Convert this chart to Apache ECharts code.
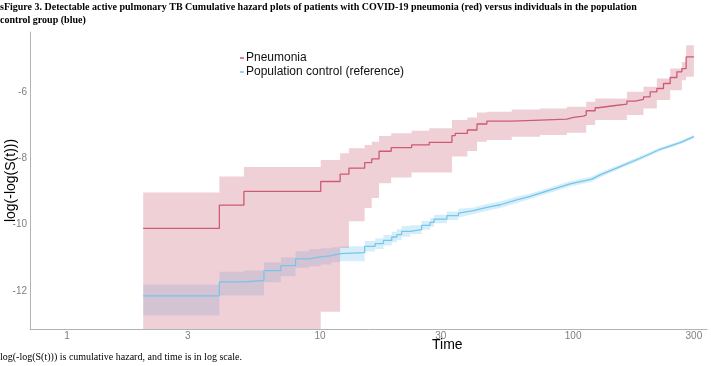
<!DOCTYPE html>
<html>
<head>
<meta charset="utf-8">
<script src="https://cdn.jsdelivr.net/npm/echarts@6/dist/echarts.min.js"></script>
<style>
html, body { margin: 0; padding: 0; background: #fff; }
#chart { width: 711px; height: 366px; }
</style>
</head>
<body>
<div id="chart"></div>
<script>
// pneumonia group: step times, estimate and confidence band
const redT = [2, 4.0, 5.0, 10.06, 12.0, 13.0, 15.0, 16.0, 17.1, 19.1, 23.0, 27.0, 33.2, 34.2, 38.2, 41.7, 45.6, 57.2, 74.1, 94.4, 100.3, 109.8, 112.6, 122.2, 125.6, 144.3, 163.1, 175.8, 189.7, 201.5, 214.2, 227.5, 241.8, 257.0, 268.9, 279.6, 300];
const redY = [-10.11, -9.41, -9.0, -8.70, -8.48, -8.30, -8.13, -8.02, -7.79, -7.68, -7.60, -7.52, -7.32, -7.25, -7.15, -6.97, -6.88, -6.85, -6.82, -6.77, -6.73, -6.70, -6.57, -6.48, -6.42, -6.37, -6.28, -6.23, -6.15, -6.0, -5.90, -5.75, -5.57, -5.40, -5.30, -4.95, -4.95];
const redUp = [-9.03, -8.55, -8.26, -8.05, -7.85, -7.70, -7.60, -7.50, -7.33, -7.25, -7.17, -7.10, -6.85, -6.85, -6.77, -6.62, -6.60, -6.53, -6.50, -6.45, -6.45, -6.45, -6.30, -6.20, -6.20, -6.20, -6.0, -6.0, -5.85, -5.85, -5.60, -5.60, -5.30, -5.30, -5.10, -4.60, -4.60];
const redLo = [-14, -14, -14, -12.62, -10.70, -9.90, -9.50, -9.20, -8.75, -8.58, -8.43, -8.43, -7.95, -7.95, -7.78, -7.50, -7.45, -7.35, -7.30, -7.23, -7.23, -7.23, -7.0, -6.85, -6.85, -6.85, -6.70, -6.70, -6.50, -6.50, -6.25, -6.25, -5.95, -5.95, -5.65, -5.55, -5.55];

// population control group, early part (clear steps)
const blueT = [2, 4.0, 5.0, 6.0, 7.0, 8.0, 9.05, 10.06, 11.1, 12.0, 15.0, 16.5, 17.8, 19.2, 20.1, 21.0, 22.7, 25.2, 27.2, 28.2, 31.7, 35.2];
const blueY = [-12.14, -11.72, -11.68, -11.38, -11.23, -11.03, -10.97, -10.93, -10.87, -10.84, -10.65, -10.57, -10.47, -10.37, -10.30, -10.20, -10.15, -10.02, -9.93, -9.83, -9.73, -9.65];
const blueUp = [-11.80, -11.42, -11.38, -11.13, -10.98, -10.80, -10.74, -10.71, -10.68, -10.65, -10.49, -10.41, -10.31, -10.21, -10.14, -10.04, -10.02, -9.89, -9.80, -9.70, -9.60, -9.52];
const blueLo = [-12.73, -12.13, -12.13, -11.73, -11.55, -11.30, -11.25, -11.20, -11.13, -11.10, -10.81, -10.73, -10.63, -10.53, -10.46, -10.36, -10.28, -10.15, -10.06, -9.96, -9.86, -9.78];

// population control group, late part (dense tiny steps, read as a smooth trace)
const blueT2 = [35.2, 40.4, 45.6, 51.5, 59.9, 67.6, 74.1, 97.3, 118.6, 127.9, 153.4, 184.0, 220.8, 264.8, 300];
const blueY2 = [-9.65, -9.58, -9.48, -9.40, -9.25, -9.15, -9.05, -8.77, -8.63, -8.50, -8.25, -8.0, -7.73, -7.53, -7.35];
const blueUp2 = [-9.52, -9.48, -9.38, -9.30, -9.15, -9.07, -8.97, -8.69, -8.55, -8.43, -8.19, -7.94, -7.68, -7.48, -7.30];
const blueLo2 = [-9.78, -9.68, -9.58, -9.50, -9.35, -9.23, -9.13, -8.85, -8.71, -8.57, -8.31, -8.06, -7.78, -7.58, -7.40];

const xTicks = [1, 3, 10, 30, 100, 300];
const yTicks = [-12, -10, -8, -6];

const titleText = 'sFigure 3. Detectable active pulmonary TB Cumulative hazard plots of patients with COVID-19 pneumonia (red) versus individuals in the population\ncontrol group (blue)';
const noteText = 'log(-log(S(t))) is cumulative hazard, and time is in log scale.';

const RED = '#cd5b72';
const BLUE = '#76c6eb';
const RED_FILL = 'rgba(205,98,122,0.3)';
const BLUE_FILL = 'rgba(118,198,235,0.3)';

function zip(xs, ys) {
  return xs.map((x, i) => [x, ys[i]]);
}

// confidence band drawn as one polygon, stepped or straight
function bandSeries(ts, up, lo, color, stepped) {
  return {
    type: 'custom',
    silent: true,
    data: [[ts[0], up[0]]],
    encode: { x: 0, y: 1 },
    renderItem: function (params, api) {
      const cs = params.coordSys;
      const clampY = y => Math.max(cs.y, Math.min(cs.y + cs.height, y));
      const pts = [];
      for (let i = 0; i < ts.length; i++) {
        pts.push(api.coord([ts[i], up[i]]));
        if (stepped && i < ts.length - 1) pts.push(api.coord([ts[i + 1], up[i]]));
      }
      for (let i = ts.length - 1; i >= 0; i--) {
        if (stepped && i < ts.length - 1) pts.push(api.coord([ts[i + 1], lo[i]]));
        pts.push(api.coord([ts[i], lo[i]]));
      }
      return {
        type: 'polygon',
        shape: { points: pts.map(p => [p[0], clampY(p[1])]) },
        style: { fill: color }
      };
    }
  };
}

const chart = echarts.init(document.getElementById('chart'));
chart.setOption({
  animation: false,
  textStyle: { fontFamily: 'Liberation Sans' },
  grid: { left: 30, top: 32, right: 4, bottom: 37, outerBoundsMode: 'none', containLabel: false },
  graphic: [
    {
      type: 'text', left: 0, top: 1,
      style: { text: titleText, fontFamily: 'Liberation Serif', fontWeight: 'bold', fontSize: 10, lineHeight: 13, fill: '#000' }
    },
    {
      type: 'text', left: 0, top: 352,
      style: { text: noteText, fontFamily: 'Liberation Serif', fontSize: 10, fill: '#000' }
    },
    {
      type: 'text', left: 432, top: 338,
      style: { text: 'Time', fontFamily: 'Liberation Sans', fontSize: 14, fill: '#000' }
    }
  ],
  legend: {
    data: ['Pneumonia', 'Population control (reference)'],
    orient: 'vertical',
    left: 240,
    top: 52,
    padding: 0,
    itemGap: 2,
    itemWidth: 4,
    itemHeight: 1.5,
    itemStyle: { borderWidth: 0 },
    icon: 'rect',
    textStyle: { fontSize: 12, color: '#111', padding: [0, 0, 0, -3], lineHeight: 11 }
  },
  xAxis: {
    type: 'log',
    logBase: 10,
    min: 0.714,
    max: 338,
    axisLine: { lineStyle: { color: '#b3b3b3', width: 1 } },
    axisTick: { show: false },
    splitLine: { show: false },
    axisLabel: { customValues: xTicks, color: '#7f7f7f', fontSize: 10, margin: 2 }
  },
  yAxis: {
    type: 'value',
    min: -13.14,
    max: -4.2,
    name: 'log(-log(S(t)))',
    nameLocation: 'middle',
    nameGap: 12,
    nameRotate: 90,
    nameMoveOverlap: false,
    nameTextStyle: { color: '#000', fontSize: 14, verticalAlign: 'bottom' },
    axisLine: { show: true, lineStyle: { color: '#b3b3b3', width: 1 } },
    axisTick: { show: false },
    splitLine: { show: false },
    axisLabel: { customValues: yTicks, color: '#7f7f7f', fontSize: 10, margin: 3 }
  },
  series: [
    bandSeries(blueT, blueUp, blueLo, BLUE_FILL, true),
    bandSeries(blueT2, blueUp2, blueLo2, BLUE_FILL, false),
    {
      name: 'Population control (reference)',
      type: 'line',
      step: 'end',
      data: zip(blueT, blueY),
      showSymbol: false,
      color: BLUE,
      lineStyle: { width: 1.3, color: BLUE }
    },
    {
      name: 'Population control (reference)',
      type: 'line',
      data: zip(blueT2, blueY2),
      showSymbol: false,
      color: BLUE,
      lineStyle: { width: 1.3, color: BLUE }
    },
    bandSeries(redT, redUp, redLo, RED_FILL, true),
    {
      name: 'Pneumonia',
      type: 'line',
      step: 'end',
      data: zip(redT, redY),
      showSymbol: false,
      color: RED,
      lineStyle: { width: 1.3, color: RED }
    }
  ]
});
</script>
</body>
</html>
